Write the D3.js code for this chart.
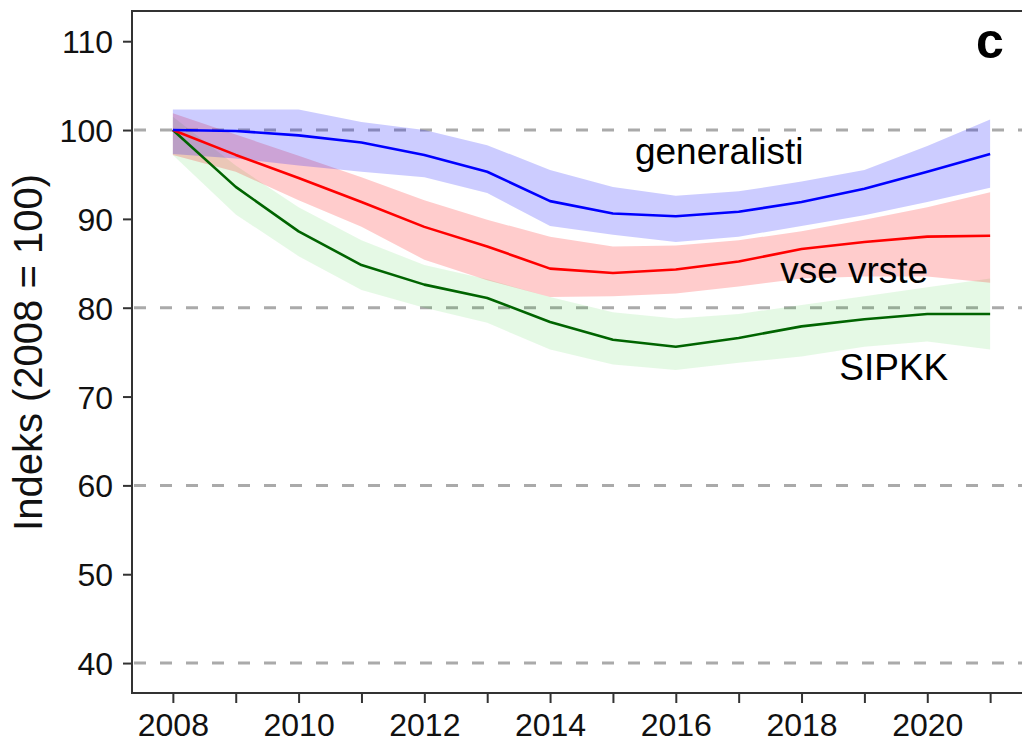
<!DOCTYPE html>
<html>
<head>
<meta charset="utf-8">
<script src="https://cdn.jsdelivr.net/npm/d3@7"></script>
<style>
  html, body { margin: 0; padding: 0; background: #fff; }
  svg { display: block; }
  text { font-family: "Liberation Sans", Arial, Helvetica, sans-serif; }
</style>
</head>
<body>
<svg id="chart" width="1022" height="742"></svg>
<script>
// Index values (2008 = 100) with their uncertainty bands
const years = [2008, 2009, 2010, 2011, 2012, 2013, 2014, 2015, 2016, 2017, 2018, 2019, 2020, 2021];

const generalisti   = [100, 99.9, 99.4, 98.6, 97.2, 95.3, 92.0, 90.6, 90.3, 90.8, 91.9, 93.4, 95.3, 97.3];
const generalistiLo = [97.3, 96.8, 96.0, 95.3, 94.7, 92.9, 89.2, 88.2, 87.4, 88.0, 89.2, 90.4, 91.9, 93.5];
const generalistiHi = [102.3, 102.3, 102.3, 100.9, 100.0, 98.3, 95.5, 93.6, 92.6, 93.1, 94.2, 95.5, 98.2, 101.2];

const vseVrste   = [100, 97.2, 94.6, 91.9, 89.1, 86.9, 84.4, 83.9, 84.3, 85.2, 86.6, 87.4, 88.0, 88.1];
const vseVrsteLo = [97.2, 95.3, 92.1, 89.1, 85.4, 83.1, 81.2, 81.3, 81.6, 82.4, 83.3, 83.5, 83.5, 82.8];
const vseVrsteHi = [101.9, 99.5, 97.1, 94.7, 92.1, 89.9, 88.0, 86.9, 87.0, 87.6, 88.6, 89.9, 91.3, 93.0];

const sipkk   = [100, 93.6, 88.6, 84.8, 82.6, 81.1, 78.4, 76.4, 75.6, 76.6, 77.9, 78.7, 79.3, 79.3];
const sipkkLo = [97.2, 90.5, 85.8, 82.0, 80.0, 78.3, 75.3, 73.6, 73.0, 73.8, 74.5, 75.6, 76.2, 75.3];
const sipkkHi = [101.5, 96.0, 91.3, 87.6, 84.8, 83.2, 81.2, 79.5, 78.8, 79.3, 80.3, 81.3, 82.3, 83.3];

const yTicks = [40, 50, 60, 70, 80, 90, 100, 110];
const xTicks = [2008, 2009, 2010, 2011, 2012, 2013, 2014, 2015, 2016, 2017, 2018, 2019, 2020, 2021];
const xTickLabels = [2008, 2010, 2012, 2014, 2016, 2018, 2020];
const gridValues = [40, 60, 80, 100];

const series = [
  { name: "SIPKK",       mid: sipkk,       lo: sipkkLo,       hi: sipkkHi,       line: "#006400", band: "rgba(0,200,0,0.1)" },
  { name: "vse vrste",   mid: vseVrste,    lo: vseVrsteLo,    hi: vseVrsteHi,    line: "#ff0000", band: "rgba(255,0,0,0.2)" },
  { name: "generalisti", mid: generalisti, lo: generalistiLo, hi: generalistiHi, line: "#0000ff", band: "rgba(0,0,255,0.2)" }
];

const seriesLabels = [
  { text: "generalisti", year: 2015.35, value: 96.2 },
  { text: "vse vrste",   year: 2017.66, value: 82.8 },
  { text: "SIPKK",       year: 2018.6,  value: 71.9 }
];

const svg = d3.select("#chart");
const plotLeft = 132, plotTop = 11, plotRight = 1031, plotBottom = 693;

const x = d3.scaleLinear().domain([2007.35, 2021.65]).range([plotLeft, plotRight]);
const y = d3.scaleLinear().domain([36.63, 113.4]).range([plotBottom, plotTop]);

svg.append("rect").attr("width", 1022).attr("height", 742).attr("fill", "#fff");

// dashed reference lines
svg.append("g").selectAll("line").data(gridValues).join("line")
  .attr("x1", plotLeft + 2).attr("x2", plotRight)
  .attr("y1", d => y(d)).attr("y2", d => y(d))
  .attr("stroke", "#aaaaaa").attr("stroke-width", 3)
  .attr("stroke-dasharray", "12,14");

// bands, then lines on top
const area = d3.area()
  .x(d => x(d.year)).y0(d => y(d.lo)).y1(d => y(d.hi));
const line = d3.line().x(d => x(d.year)).y(d => y(d.v));

series.forEach(s => {
  const pts = years.map((yr, i) => ({ year: yr, lo: s.lo[i], hi: s.hi[i] }));
  svg.append("path").datum(pts).attr("d", area).attr("fill", s.band).attr("stroke", "none");
});
series.forEach(s => {
  const pts = years.map((yr, i) => ({ year: yr, v: s.mid[i] }));
  svg.append("path").datum(pts).attr("d", line)
    .attr("fill", "none").attr("stroke", s.line).attr("stroke-width", 2.6)
    .attr("stroke-linejoin", "round");
});

// axes
const yAxis = svg.append("g").attr("transform", `translate(${plotLeft},0)`)
  .call(d3.axisLeft(y).tickValues(yTicks).tickSize(9).tickPadding(10).tickFormat(d3.format("d")));
const xAxis = svg.append("g").attr("transform", `translate(0,${plotBottom})`)
  .call(d3.axisBottom(x).tickValues(xTicks).tickSize(10)
    .tickFormat(d => xTickLabels.includes(d) ? String(d) : ""));

[yAxis, xAxis].forEach(g => {
  g.select(".domain").remove();
  g.selectAll(".tick line").attr("stroke", "#333").attr("stroke-width", 2);
  g.selectAll(".tick text").attr("fill", "#111").attr("font-size", 32)
    .attr("font-family", "'Liberation Sans', Arial, sans-serif");
});
yAxis.selectAll(".tick text").attr("x", -19).attr("dy", "0.36em");
xAxis.selectAll(".tick text").attr("y", 43).attr("dy", 0);

// panel frame: left, top, bottom
const frame = svg.append("g").attr("stroke", "#333").attr("stroke-width", 2).attr("fill", "none");
frame.append("line").attr("x1", plotLeft).attr("x2", plotLeft).attr("y1", plotTop).attr("y2", plotBottom);
frame.append("line").attr("x1", plotLeft - 1).attr("x2", 1022).attr("y1", plotTop).attr("y2", plotTop);
frame.append("line").attr("x1", plotLeft - 1).attr("x2", 1022).attr("y1", plotBottom).attr("y2", plotBottom);

// y axis title
svg.append("text")
  .attr("transform", `translate(42,352.5) rotate(-90)`)
  .attr("text-anchor", "middle").attr("font-size", 40).attr("fill", "#111")
  .text("Indeks (2008 = 100)");

// series labels
svg.append("g").selectAll("text").data(seriesLabels).join("text")
  .attr("x", d => x(d.year)).attr("y", d => y(d.value))
  .attr("font-size", 37).attr("fill", "#000")
  .text(d => d.text);

// panel letter
svg.append("text").attr("x", 990).attr("y", 58).attr("text-anchor", "middle")
  .attr("font-size", 50).attr("font-weight", "bold").attr("fill", "#000").text("c");
</script>
</body>
</html>
